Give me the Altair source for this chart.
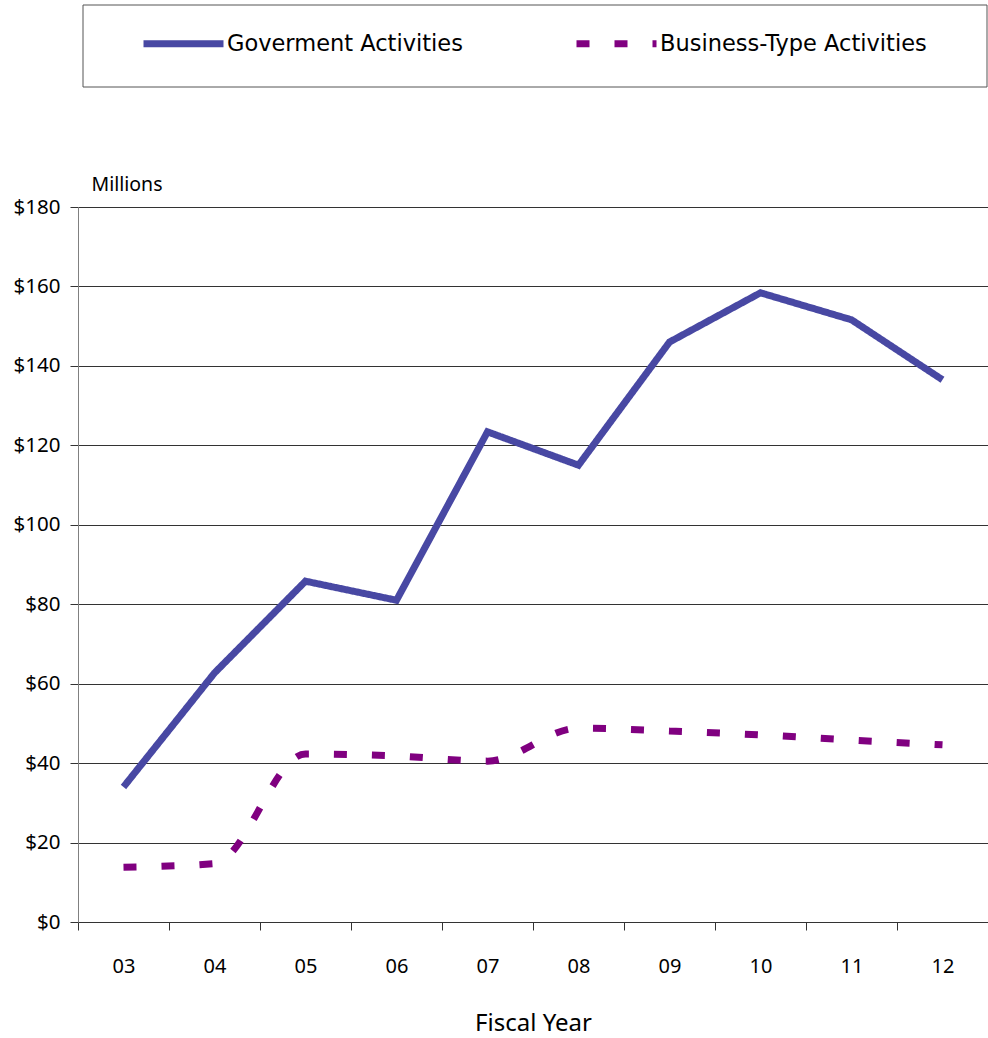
import altair as alt
import pandas as pd

# Fiscal years and net position by activity type (millions of dollars)
years = ["03", "04", "05", "06", "07", "08", "09", "10", "11", "12"]
government = [34.0, 62.7, 85.8, 81.0, 123.4, 115.0, 146.0, 158.4, 151.6, 136.5]
business = [13.8, 14.7, 42.3, 41.8, 40.5, 48.8, 48.1, 47.1, 45.8, 44.6]
series_names = ["Goverment Activities", "Business-Type Activities"]
y_ticks = [0, 20, 40, 60, 80, 100, 120, 140, 160, 180]

gov_df = pd.DataFrame({"year": years, "value": government, "series": series_names[0]})
bus_df = pd.DataFrame({"year": years, "value": business, "series": series_names[1]})

GOV_COLOR = "#4848A3"
BUS_COLOR = "#800080"
TICK_FONT = "Noto Sans"
LEGEND_FONT = "DejaVu Sans"

x_enc = alt.X(
    "year:N",
    sort=years,
    scale=alt.Scale(type="band", paddingInner=0, paddingOuter=0),
    axis=alt.Axis(
        tickBand="extent",
        labelAngle=0,
        tickSize=8,
        labelPadding=26,
        grid=False,
        domainColor="#333333",
        tickColor="#333333",
        labelFont=TICK_FONT,
        labelFontSize=20,
        labelColor="#000000",
        title="Fiscal Year",
        titleFont=TICK_FONT,
        titleFontSize=24,
        titleFontWeight="normal",
        titleColor="#000000",
        titleY=108,
        titleBaseline="alphabetic",
    ),
)

y_enc = alt.Y(
    "value:Q",
    scale=alt.Scale(domain=[0, 180], nice=False),
    axis=alt.Axis(
        values=y_ticks,
        format="$.0f",
        grid=True,
        gridColor="#333333",
        gridWidth=1,
        domainColor="#808080",
        tickColor="#333333",
        tickSize=8,
        labelPadding=10,
        labelFont=TICK_FONT,
        labelFontSize=20.5,
        labelColor="#000000",
        title="Millions",
        titleFont=TICK_FONT,
        titleFontSize=19.5,
        titleFontWeight="normal",
        titleColor="#000000",
        titleAngle=0,
        titleAlign="left",
        titleBaseline="alphabetic",
        titleX=13,
        titleY=-17,
    ),
)

legend = alt.Legend(
    title=None,
    orient="none",
    legendX=62,
    legendY=-207,
    direction="horizontal",
    columns=2,
    columnPadding=99,
    padding=0,
    symbolType="stroke",
    symbolSize=6400,
    symbolStrokeWidth=7,
    labelOffset=0,
    labelFont=LEGEND_FONT,
    labelFontSize=22.5,
    labelColor="#000000",
    labelLimit=400,
)

color_enc = alt.Color(
    "series:N",
    scale=alt.Scale(domain=series_names, range=[GOV_COLOR, BUS_COLOR]),
    legend=legend,
)
dash_enc = alt.StrokeDash(
    "series:N",
    scale=alt.Scale(domain=series_names, range=[[1, 0], [13, 25]]),
    legend=legend,
)

# Legend frame above the plot
frame = alt.Chart(alt.Data(values=[{}])).mark_rect(
    fill="white", stroke="#555555", strokeWidth=1
).encode(
    x=alt.value(5), x2=alt.value(909), y=alt.value(-202), y2=alt.value(-120)
)

gov_line = alt.Chart(gov_df).mark_line(
    strokeWidth=7, strokeCap="butt", strokeJoin="miter", interpolate="linear"
).encode(x=x_enc, y=y_enc, color=color_enc, strokeDash=dash_enc)

bus_line = alt.Chart(bus_df).mark_line(
    strokeWidth=7, strokeCap="butt", interpolate="monotone"
).encode(x=x_enc, y=y_enc, color=color_enc, strokeDash=dash_enc)

chart = alt.layer(frame, gov_line, bus_line).properties(
    width=910,
    height=715,
    autosize=alt.AutoSizeParams(type="none"),
    padding={"left": 78, "top": 207, "right": 0, "bottom": 116},
    background="white",
).configure_view(stroke=None)

chart.save("out.html", embed_options={"renderer": "svg", "actions": False})
